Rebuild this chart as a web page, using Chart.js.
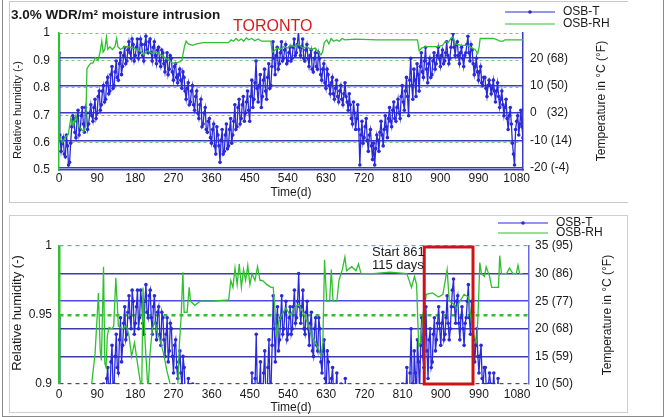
<!DOCTYPE html>
<html>
<head>
<meta charset="utf-8">
<script src="https://cdn.jsdelivr.net/npm/chart.js@4.4.0/dist/chart.umd.min.js"></script>
<style>
body{margin:0;background:#fff;width:669px;height:417px;position:relative;overflow:hidden}
.frame{position:absolute;box-sizing:border-box}
#outer{left:2px;top:0;width:662px;height:417px;border:1px solid #8a8a8a;border-top:none}
#boxTop{left:9px;top:1px;width:619px;height:202px;border:1px solid #c8c8c8;border-right:none}
#boxBot{left:9px;top:215px;width:619px;height:198px;border:1px solid #cfcfcf}
canvas{position:absolute;left:0}
</style>
</head>
<body>
<div class="frame" id="outer"></div>
<div class="frame" id="boxTop"></div>
<div class="frame" id="boxBot"></div>
<canvas id="topChart" width="669" height="203" style="top:0"></canvas>
<canvas id="botChart" width="669" height="214" style="top:203px"></canvas>
<script>
// ---------------- DATA ----------------
const xTicks = [0,90,180,270,360,450,540,630,720,810,900,990,1080];

const rhTicksTop = [0.5,0.6,0.7,0.8,0.9,1];
const tTicksTop = [-20,-10,0,10,20];
const tLabelsTop = ['-20 (-4)','-10 (14)','0   (32)','10 (50)','20 (68)'];

const rhTicksBot = [0.9,0.95,1];
const tTicksBot = [10,15,20,25,30,35];
const tLabelsBot = ['10 (50)','15 (59)','20 (68)','25 (77)','30 (86)','35 (95)'];

// OSB temperature, deg C (same record in both panels)
const tempDays = [0,2,5,10,15,20,25,30,35,40,45,
 50,55,60,65,70,75,80,85,90,95,
 100,105,110,115,120,125,130,135,140,145,
 150,155,160,165,170,175,180,185,190,195,
 200,205,210,215,220,225,230,235,240,245,
 250,255,260,265,270,275,280,285,290,295,
 300,305,310,315,320,325,330,335,340,345,
 350,355,360,365,370,375,380,385,390,395,
 400,405,410,415,420,425,430,435,440,445,
 450,455,460,465,470,475,480,485,490,495,
 500,505,510,515,520,525,530,535,540,545,
 550,555,560,565,570,575,580,585,590,595,
 600,605,610,615,620,625,630,635,640,645,
 650,655,660,665,670,675,680,685,690,695,
 700,705,710,715,720,725,730,735,740,745,
 750,755,760,765,770,775,780,785,790,795,
 800,805,810,815,820,825,830,835,840,845,
 850,855,860,865,870,875,880,885,890,895,
 900,905,910,915,920,925,930,935,940,945,
 950,955,960,965,970,975,980,985,990,995,
 1000,1005,1010,1015,1020,1025,1030,1035,1040,1045,
 1050,1055,1060,1065,1070,1075,1080,1085,1090,1095];
const tempC = [22,-8,-14,-9,-16,-12,-18,-5,-2,-9,1,
 -6,2,-7,0,-4,3,-3,5,0,8,
 3,10,5,13,8,17,10,19,12,22,
 17,24,19,26,20,25,21,27,22,25,
 19,28,22,27,19,26,18,24,17,22,
 15,22,16,20,12,18,11,16,9,13,
 5,11,4,10,1,8,-2,5,-4,2,
 -7,-2,-11,-4,-15,-8,-18,-6,-14,-4,
 -12,-2,-8,3,-5,5,-2,6,0,8,
 -3,12,5,19,4,14,6,16,5,18,
 10,26,14,24,18,26,20,25,19,24,
 20,27,22,30,21,27,19,25,17,23,
 15,22,16,20,12,18,9,14,7,13,
 5,12,4,10,3,11,4,7,-2,4,
 -6,3,-19,-3,-9,-2,-14,-6,-17,-19,
 -8,-14,-3,-12,-1,-9,2,-5,4,-3,
 5,-2,10,1,13,-1,20,5,12,18,
 8,22,13,24,11,20,14,22,18,24,
 17,23,19,26,18,24,29,21,26,18,
 24,17,22,28,19,23,14,20,12,17,
 10,13,6,12,7,12,4,11,2,8,
 -1,5,-6,2,-11,-19,-3,-8,1,-9];
// the in-between readings of the same record
const tempMidDays = [7.5,12.5,17.5,22.5,27.5,32.5,37.5,42.5,47.5,
 52.5,57.5,62.5,67.5,72.5,77.5,82.5,87.5,92.5,97.5,
 102.5,107.5,112.5,117.5,122.5,127.5,132.5,137.5,142.5,147.5,
 152.5,157.5,162.5,167.5,172.5,177.5,182.5,187.5,192.5,197.5,
 202.5,207.5,212.5,217.5,222.5,227.5,232.5,237.5,242.5,247.5,
 252.5,257.5,262.5,267.5,272.5,277.5,282.5,287.5,292.5,297.5,
 302.5,307.5,312.5,317.5,322.5,327.5,332.5,337.5,342.5,347.5,
 352.5,357.5,362.5,367.5,372.5,377.5,382.5,387.5,392.5,397.5,
 402.5,407.5,412.5,417.5,422.5,427.5,432.5,437.5,442.5,447.5,
 452.5,457.5,462.5,467.5,472.5,477.5,482.5,487.5,492.5,497.5,
 502.5,507.5,512.5,517.5,522.5,527.5,532.5,537.5,542.5,547.5,
 552.5,557.5,562.5,567.5,572.5,577.5,582.5,587.5,592.5,597.5,
 602.5,607.5,612.5,617.5,622.5,627.5,632.5,637.5,642.5,647.5,
 652.5,657.5,662.5,667.5,672.5,677.5,682.5,687.5,692.5,697.5,
 702.5,707.5,712.5,717.5,722.5,727.5,732.5,737.5,742.5,747.5,
 752.5,757.5,762.5,767.5,772.5,777.5,782.5,787.5,792.5,797.5,
 802.5,807.5,812.5,817.5,822.5,827.5,832.5,837.5,842.5,847.5,
 852.5,857.5,862.5,867.5,872.5,877.5,882.5,887.5,892.5,897.5,
 902.5,907.5,912.5,917.5,922.5,927.5,932.5,937.5,942.5,947.5,
 952.5,957.5,962.5,967.5,972.5,977.5,982.5,987.5,992.5,997.5,
 1002.5,1007.5,1012.5,1017.5,1022.5,1027.5,1032.5,1037.5,1042.5,1047.5,
 1052.5,1057.5,1062.5,1067.5,1072.5,1077.5,1082.5,1087.5,1092.5];
const tempMidC = [-11,-15,-8,-19,-11,-1,-7,-3,-8,
 -1,-4,2,-6,0,-1,2,-2,6,1,
 8,4,11,7,14,9,15,13,18,14,
 21,18,23,22,27,19,24,20,27,21,
 25,23,26,22,24,21,23,19,23,18,
 19,14,21,15,17,13,14,12,15,8,
 9,3,8,3,6,0,3,-5,0,-6,
 -3,-9,-6,-12,-5,-12,-10,-15,-8,-13,
 -6,-11,-3,-6,2,-4,3,-3,4,1,
 6,2,11,9,10,2,12,8,13,9,
 17,20,21,16,22,19,23,18,22,19,
 24,21,25,24,24,20,23,20,21,16,
 20,17,22,14,16,11,16,10,11,7,
 9,6,8,5,7,6,1,3,-4,0,
 -2,-6,-8,-11,-5,-10,-8,-12,-11,-13,
 -10,-7,-8,-6,-5,-2,-3,1,-2,2,
 0,6,4,8,6,12,10,16,6,14,
 17,15,19,16,18,13,19,16,21,20,
 21,18,22,21,20,27,24,25,21,22,
 20,21,25,22,25,18,17,15,15,11,
 13,9,10,10,9,8,8,6,5,3,
 2,-2,-1,-4,-15,-6,-1,-4,-5];

// OSB relative humidity, top panel
const rhTopDays = [0,1,8,15,22,28,34,40,46,52,58,63,66,70,75,80,86,92,97,101,104,108,112,115,120,126,132,136,139,145,
 155,165,175,185,195,200,208,215,222,230,240,250,260,268,276,285,290,296,300,305,315,325,340,360,380,400,
 406,412,418,424,430,436,442,448,455,462,470,478,490,500,503,508,515,522,530,540,548,556,565,575,585,595,
 605,612,618,622,626,632,637,642,648,655,662,668,675,700,750,800,846,850,856,865,880,895,905,912,918,925,
 930,935,950,965,975,982,988,991,994,1010,1025,1035,1040,1048,1052,1070,1095];
const rhTopVals = [1.0,0.62,0.6,0.62,0.63,0.69,0.66,0.7,0.66,0.65,0.64,0.66,0.87,0.88,0.89,0.89,0.91,0.9,0.93,0.97,0.93,0.94,0.985,0.94,0.95,0.94,0.95,0.98,0.95,0.94,
 0.95,0.95,0.945,0.94,0.93,0.92,0.935,0.93,0.925,0.93,0.92,0.91,0.9,0.89,0.89,0.895,0.9,0.95,0.97,0.96,0.955,0.96,0.965,0.965,0.965,0.965,
 0.975,0.97,0.98,0.972,0.978,0.97,0.982,0.975,0.98,0.972,0.978,0.97,0.97,0.97,0.93,0.935,0.945,0.94,0.95,0.945,0.955,0.95,0.96,0.945,0.95,0.94,
 0.945,0.93,0.92,0.93,0.965,0.975,0.96,0.98,0.97,0.975,0.97,0.98,0.975,0.978,0.975,0.975,0.975,0.935,0.945,0.95,0.95,0.95,0.955,0.97,0.965,0.98,
 0.985,0.96,0.955,0.955,0.945,0.94,0.925,0.945,0.98,0.98,0.98,0.975,0.97,0.97,0.975,0.975,0.975];

// OSB relative humidity, bottom panel
const rhBotDays = [0,2,40,65,77,85,93,97,100,105,108,111,114,118,125,129,134,140,150,159,165,171,178,185,190,195,198,203,207,210,
 214,220,226,232,240,248,254,262,270,279,284,288,292,295,302,307,310,320,333,360,400,405,410,415,420,425,430,435,440,445,
 450,455,462,468,474,480,490,500,505,509,513,518,525,535,545,555,565,575,585,595,605,612,618,622,626,631,638,642,646,655,
 660,668,674,678,690,700,706,712,740,780,820,831,838,843,848,852,858,866,880,895,905,915,920,930,937,945,955,965,972,978,
 985,989,992,996,1003,1007,1015,1020,1030,1036,1039,1043,1055,1062,1070,1078,1082,1086,1094];
const rhBotVals = [1.0,0.62,0.7,0.87,0.9,0.922,0.966,0.925,0.917,0.985,0.915,0.912,0.935,0.941,0.94,0.942,0.977,0.942,0.94,0.942,0.935,0.92,0.93,0.915,0.905,0.895,0.97,0.93,0.91,0.895,
 0.92,0.94,0.945,0.937,0.93,0.92,0.91,0.9,0.88,0.89,0.93,0.949,0.981,0.952,0.952,0.97,0.96,0.957,0.96,0.96,0.961,0.975,0.97,0.984,0.972,0.987,0.97,0.983,0.975,0.986,
 0.972,0.98,0.975,0.985,0.975,0.975,0.972,0.97,0.97,0.955,0.934,0.945,0.95,0.955,0.95,0.955,0.958,0.952,0.945,0.935,0.93,0.925,0.92,0.93,0.99,0.96,0.96,0.983,0.96,0.96,
 0.975,0.983,0.992,0.982,0.985,0.982,0.987,0.98,0.98,0.981,0.98,0.97,0.978,0.972,0.927,0.93,0.95,0.965,0.966,0.963,0.965,0.983,0.96,0.958,0.955,0.96,0.965,0.963,0.945,0.935,
 0.93,0.96,0.988,0.98,0.978,0.985,0.978,0.97,0.97,0.97,0.993,0.98,0.98,0.984,0.98,0.98,0.986,0.98,0.98];

const boxStart = 861;
const boxDays = 115;

// ---------------- STYLE ----------------
const FONT = '"Liberation Sans", Arial, sans-serif';
const BLUE = '#2a2ad8';
const GREEN = '#2fc02f';
const GRIDBLUE = '#3a3ac4';
const TXT = '#1a1a1a';

function pairs(xs, ys){ return xs.map((x,i)=>({x, y: ys[i]})); }
const fixTicks = list => scale => { scale.ticks = list.map(v=>({value:v})); };

// both temperature lists merged in time order
const tempPoints = pairs(tempDays, tempC).concat(pairs(tempMidDays, tempMidC)).sort((a,b)=>a.x-b.x);

function datasets(rhDays, rhVals){
    return [
        {label:'OSB-RH', data: pairs(rhDays, rhVals), yAxisID:'y', borderColor:GREEN, borderWidth:1.3, pointRadius:0, tension:0},
        {label:'OSB-T', data: tempPoints, yAxisID:'y1', borderColor:BLUE, backgroundColor:BLUE,
         borderWidth:1.3, pointRadius:1.8, pointBorderWidth:0, pointBackgroundColor:BLUE, tension:0}
    ];
}

function drawLegend(ctx, x, yT, yRH){
    ctx.save();
    ctx.lineWidth = 1.2;
    ctx.strokeStyle = BLUE;
    ctx.beginPath(); ctx.moveTo(x, yT); ctx.lineTo(x+50, yT); ctx.stroke();
    ctx.fillStyle = BLUE;
    ctx.beginPath(); ctx.arc(x+25, yT, 1.8, 0, Math.PI*2); ctx.fill();
    ctx.strokeStyle = GREEN;
    ctx.beginPath(); ctx.moveTo(x, yRH); ctx.lineTo(x+50, yRH); ctx.stroke();
    ctx.fillStyle = TXT;
    ctx.font = '12px ' + FONT;
    ctx.textBaseline = 'middle';
    ctx.textAlign = 'left';
    ctx.fillText('OSB-T', x+58, yT);
    ctx.fillText('OSB-RH', x+58, yRH);
    ctx.restore();
}

function vText(ctx, text, x, y, size){
    ctx.save();
    ctx.translate(x, y);
    ctx.rotate(-Math.PI/2);
    ctx.font = size + 'px ' + FONT;
    ctx.fillStyle = TXT;
    ctx.textAlign = 'center';
    ctx.textBaseline = 'middle';
    ctx.fillText(text, 0, 0);
    ctx.restore();
}

// ---------------- TOP PANEL ----------------
const topOverlay = {
    id:'topOverlay',
    afterDraw(chart){
        const ctx = chart.ctx;
        ctx.save();
        ctx.fillStyle = TXT;
        ctx.font = 'bold 13.5px ' + FONT;
        ctx.textBaseline = 'middle';
        ctx.fillText('3.0% WDR/m\u00b2 moisture intrusion', 11, 15);
        ctx.fillStyle = '#d41e1e';
        ctx.font = '16px ' + FONT;
        ctx.fillText('TORONTO', 233, 27);
        ctx.fillStyle = TXT;
        ctx.font = '12px ' + FONT;
        ctx.textAlign = 'center';
        ctx.fillText('Time(d)', 291, 193);
        ctx.restore();
        vText(ctx, 'Relative humidity (-)', 18, 110, 11);
        vText(ctx, 'Temperature in \u00b0C (\u00b0F)', 602, 101, 12);
        drawLegend(ctx, 505, 12, 24);
    }
};

new Chart(document.getElementById('topChart'), {
    type:'line',
    data:{ datasets: datasets(rhTopDays, rhTopVals) },
    options:{
        responsive:false, animation:false, events:[],
        layout:{ padding:{top:33, left:0, right:0, bottom:0} },
        plugins:{ legend:{display:false}, tooltip:{enabled:false} },
        scales:{
            x:{ type:'linear', min:0, max:1095, afterBuildTicks: fixTicks(xTicks),
                afterFit: s=>{ s.height = 33; },
                grid:{display:false, drawTicks:false},
                border:{color:GRIDBLUE, width:1.5},
                ticks:{padding:1, color:TXT, autoSkip:false, maxRotation:0, font:{size:12, family:FONT}, callback:v=>String(v)} },
            y:{ position:'left', min:0.5, max:1, afterBuildTicks: fixTicks(rhTicksTop),
                afterFit: s=>{ s.width = 59; },
                grid:{ color: c => c.tick && c.tick.value===0.5 ? 'rgba(0,0,0,0)' : '#7cc77c', lineWidth:1, drawTicks:false },
                border:{color:GREEN, width:1.5, dash:[3,3]},
                ticks:{padding:9, color:TXT, font:{size:12, family:FONT}, callback:v=>String(v)} },
            y1:{ position:'right', min:-20.8, max:29.2, afterBuildTicks: fixTicks(tTicksTop),
                afterFit: s=>{ s.width = 146; },
                grid:{ color:GRIDBLUE, lineWidth:1.5, drawOnChartArea:true, drawTicks:false },
                border:{color:GRIDBLUE, width:1.5},
                ticks:{padding:7, color:TXT, font:{size:12, family:FONT}, callback:v=>tLabelsTop[tTicksTop.indexOf(v)]} }
        }
    },
    plugins:[topOverlay]
});

// ---------------- BOTTOM PANEL ----------------
const botOverlay = {
    id:'botOverlay',
    afterDraw(chart){
        const ctx = chart.ctx;
        const a = chart.chartArea;
        const x = chart.scales.x;
        const x1 = x.getPixelForValue(boxStart);
        const x2 = x.getPixelForValue(boxStart + boxDays);
        ctx.save();
        ctx.strokeStyle = '#cc1414';
        ctx.lineWidth = 3;
        ctx.strokeRect(x1, a.top + 1, x2 - x1, a.bottom - a.top - 1);
        ctx.fillStyle = TXT;
        ctx.font = '13px ' + FONT;
        ctx.textBaseline = 'middle';
        ctx.fillText('Start ' + boxStart, 372, 49);
        ctx.fillText(boxDays + ' days', 372, 62);
        ctx.font = '12px ' + FONT;
        ctx.textAlign = 'center';
        ctx.fillText('Time(d)', 291, 205);
        ctx.restore();
        vText(ctx, 'Relative humidity (-)', 17, 110, 13);
        vText(ctx, 'Temperature in \u00b0C (\u00b0F)', 608, 112, 12);
        drawLegend(ctx, 498, 20, 30);
    }
};

new Chart(document.getElementById('botChart'), {
    type:'line',
    data:{ datasets: datasets(rhBotDays, rhBotVals) },
    options:{
        responsive:false, animation:false, events:[],
        layout:{ padding:{top:43, left:0, right:0, bottom:0} },
        plugins:{ legend:{display:false}, tooltip:{enabled:false} },
        scales:{
            x:{ type:'linear', min:0, max:1108, afterBuildTicks: fixTicks(xTicks),
                afterFit: s=>{ s.height = 33; },
                grid:{display:false, drawTicks:false},
                border:{display:false},
                ticks:{padding:3, color:TXT, autoSkip:false, maxRotation:0, font:{size:12, family:FONT}, callback:v=>String(v)} },
            y:{ position:'left', min:0.9, max:1, afterBuildTicks: fixTicks(rhTicksBot),
                afterFit: s=>{ s.width = 59; },
                grid:{ color: c => !c.tick ? '#555' : c.tick.value===0.95 ? GREEN : c.tick.value===1 ? '#7a9ad8' : '#4a4a6a',
                       lineWidth: c => c.tick && c.tick.value===0.95 ? 2.5 : 1.2, drawTicks:false },
                border:{color:GREEN, width:1.5, dash:[4,4]},
                ticks:{padding:7, color:TXT, font:{size:12, family:FONT}, callback:v=>String(v)} },
            y1:{ position:'right', min:10, max:35, afterBuildTicks: fixTicks(tTicksBot),
                afterFit: s=>{ s.width = 140; },
                grid:{ color: c => !c.tick || c.tick.value===10 || c.tick.value===35 ? 'rgba(0,0,0,0)' : (c.tick.value===25 ? '#4c4cec' : '#3c3ca8'),
                       lineWidth:1.5, drawOnChartArea:true, drawTicks:false },
                border:{color:'#6a6ae0', width:1.5},
                ticks:{padding:6, color:TXT, font:{size:12, family:FONT}, callback:v=>tLabelsBot[tTicksBot.indexOf(v)]} }
        }
    },
    plugins:[botOverlay]
});
</script>
</body>
</html>
